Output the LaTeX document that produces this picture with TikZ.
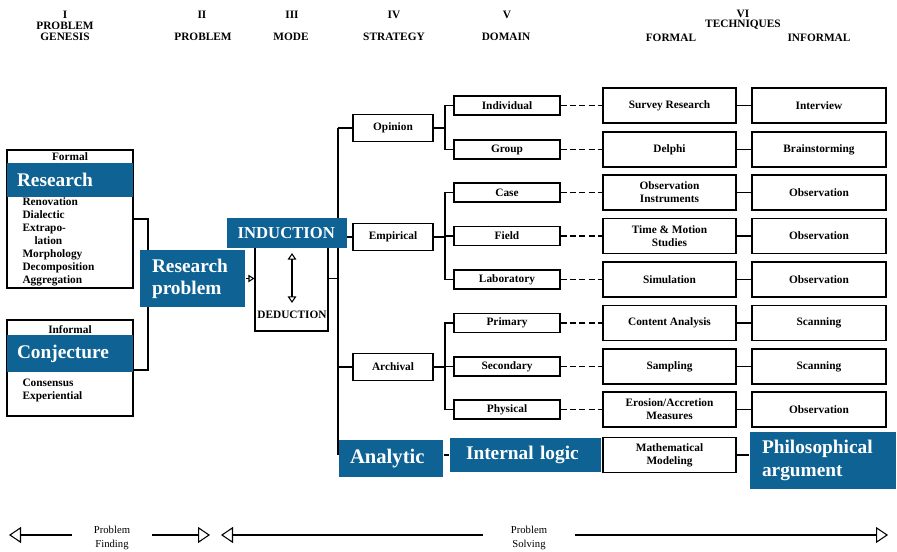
\documentclass[tikz,border=0pt]{standalone}
\usepackage{fontspec}
\setmainfont{Liberation Serif}
\usetikzlibrary{arrows.meta}
\definecolor{hblue}{RGB}{14,99,148}
\begin{document}
\begin{tikzpicture}[x=0.75pt,y=-0.75pt,
  line width=0.8pt,
  hdr/.style={font=\fontsize{8.5}{9}\selectfont\bfseries, inner sep=0pt},
  lbl/.style={font=\fontsize{8.5}{9.75}\selectfont\bfseries, inner sep=0pt, align=center},
  lst/.style={font=\fontsize{8.5}{9.75}\selectfont\bfseries, inner sep=0pt, align=left, anchor=north west},
  dom/.style={draw, minimum width=79.5pt, minimum height=14.25pt, inner sep=0pt, font=\fontsize{8.5}{9.75}\selectfont\bfseries},
  strat/.style={draw, minimum width=60pt, minimum height=20.25pt, inner sep=0pt, font=\fontsize{8.5}{9.75}\selectfont\bfseries},
  ftech/.style={draw, minimum width=99.75pt, minimum height=26.25pt, inner sep=0pt, align=center, font=\fontsize{8.5}{9.75}\selectfont\bfseries},
  itech/.style={draw, minimum width=100.5pt, minimum height=26.25pt, inner sep=0pt, align=center, font=\fontsize{8.5}{9.75}\selectfont\bfseries},
  hl/.style={fill=hblue, text=white, font=\fontsize{14.5}{17}\selectfont\bfseries, align=left, inner ysep=0pt},
  dsh/.style={dash pattern=on 4.5pt off 2.5pt},
  bigtip/.style={{Triangle[open,length=9pt,width=12pt]}},
]
\fill[white] (0,0) rectangle (897,552);
\useasboundingbox (0,0) rectangle (897,552);

% ---------------- header
\node[hdr] (h1a) at (65,15) {I};
\node[hdr] (h1b) at (65,26) {PROBLEM};
\node[hdr] (h1c) at (65,37) {GENESIS};
\node[hdr] (h2a) at (202,15) {II};
\node[hdr] (h2b) at (203,37) {PROBLEM};
\node[hdr] (h3a) at (292,15) {III};
\node[hdr] (h3b) at (291,37) {MODE};
\node[hdr] (h4a) at (394,15) {IV};
\node[hdr] (h4b) at (394,37) {STRATEGY};
\node[hdr] (h5a) at (507,15) {V};
\node[hdr] (h5b) at (506,37) {DOMAIN};
\node[hdr] (h6a) at (743,14) {VI};
\node[hdr] (h6b) at (743,25) {TECHNIQUES};
\node[hdr] (h6c) at (671,38) {FORMAL};
\node[hdr] (h6d) at (819,38) {INFORMAL};

% ---------------- problem genesis
\node[draw, minimum width=94.5pt, minimum height=103.5pt, inner sep=0pt] (formal) at (70,219) {};
\node[lbl] (formallbl) at (70,157) {Formal};
\node[lst] (formallist) at (22,197) {Renovation\\Dialectic\\Extrapo-\\\hspace{9pt}lation\\Morphology\\Decomposition\\Aggregation};
\node[hl, minimum height=25.5pt, text width=79.5pt, inner xsep=7.5pt] (research) at (70,180) {Research};

\node[draw, minimum width=94.5pt, minimum height=72pt, inner sep=0pt] (informal) at (70,368) {};
\node[lbl] (informallbl) at (70,330) {Informal};
\node[lst] (informallist) at (22,378) {Consensus\\Experiential};
\node[hl, minimum height=27.75pt, text width=79.5pt, inner xsep=7.5pt] (conjecture) at (70,353.5) {Conjecture};

\coordinate (j1) at (148,219);
\coordinate (j2) at (148,370);
\draw (formal.east) -- (j1) -- (j2) -- (informal.east |- j2);

% ---------------- problem / mode
\node[draw, minimum width=54.75pt, minimum height=72pt, inner sep=0pt] (mode) at (291.5,283) {};
\node[lbl] (deduction) at (292,315) {DEDUCTION};
\coordinate (da) at (292,253);
\coordinate (db) at (292,303);
\draw[{Triangle[open,length=5pt,width=6.5pt]}-{Triangle[open,length=5pt,width=6.5pt]}] (da) -- (db);

\node[hl, minimum height=42.75pt, text width=60.75pt, inner xsep=9pt, font=\fontsize{14.5}{16.5}\selectfont\bfseries] (rp) at (192.5,278.5) {Research\\problem};
\draw[-{Triangle[open,length=4.5pt,width=5.5pt]}] (rp.east) -- (rp.east -| mode.west);

% ---------------- strategy
\coordinate (trtop) at (338,128);
\coordinate (trbot) at (338,455);
\coordinate (sx) at (445,0);
\node[strat] (opinion) at (393,128) {Opinion};
\node[strat] (empirical) at (393,237) {Empirical};
\node[strat] (archival) at (393,367) {Archival};

\draw (trtop) -- (trbot);
\draw (rp.east -| mode.east) -- (rp.east -| trtop);
\draw (opinion.west) -- (opinion.west -| trtop);
\draw (empirical.west) -- (empirical.west -| trtop);
\draw (archival.west) -- (archival.west -| trtop);

\node[hl, minimum height=22.5pt, text width=74pt, inner xsep=8pt, font=\fontsize{12.5}{14}\selectfont\bfseries] (induction) at (287,233) {INDUCTION};
\node[hl, minimum height=27.75pt, text width=61.5pt, inner xsep=8.25pt, font=\fontsize{15.5}{17}\selectfont\bfseries] (analytic) at (391,458.5) {Analytic};

% ---------------- domain
\node[dom] (individual) at (507,105.5) {Individual};
\node[dom] (group) at (507,149.5) {Group};
\node[dom] (case) at (507,192.5) {Case};
\node[dom] (field) at (507,236) {Field};
\node[dom] (lab) at (507,279.5) {Laboratory};
\node[dom] (primary) at (507,323) {Primary};
\node[dom] (secondary) at (507,366.5) {Secondary};
\node[dom] (physical) at (507,409.5) {Physical};
\node[hl, minimum height=25.5pt, text width=89.25pt, inner xsep=12pt] (internal) at (525.5,455) {Internal logic};

\draw (opinion.east) -- (opinion.east -| sx) |- (individual.west);
\draw (opinion.east) -- (opinion.east -| sx) |- (group.west);
\draw (empirical.east) -- (empirical.east -| sx) |- (case.west);
\draw (empirical.east) -- (empirical.east -| sx) |- (field.west);
\draw (empirical.east) -- (empirical.east -| sx) |- (lab.west);
\draw (archival.east) -- (archival.east -| sx) |- (primary.west);
\draw (archival.east) -- (archival.east -| sx) |- (secondary.west);
\draw (archival.east) -- (archival.east -| sx) |- (physical.west);
\draw (analytic.east |- internal.west) -- (internal.west);

% ---------------- techniques
\node[ftech] (survey) at (669.5,105.5) {Survey Research};
\node[ftech] (delphi) at (669.5,149.5) {Delphi};
\node[ftech] (obsinst) at (669.5,192.5) {Observation\\Instruments};
\node[ftech] (timemotion) at (669.5,236) {Time \& Motion\\Studies};
\node[ftech] (simulation) at (669.5,279.5) {Simulation};
\node[ftech] (content) at (669.5,323) {Content Analysis};
\node[ftech] (sampling) at (669.5,366.5) {Sampling};
\node[ftech] (erosion) at (669.5,409.5) {Erosion/Accretion\\Measures};
\node[ftech] (math) at (669.5,455) {Mathematical\\Modeling};

\node[itech] (interview) at (819,105.5) {Interview};
\node[itech] (brainstorm) at (819,149.5) {Brainstorming};
\node[itech] (obs1) at (819,192.5) {Observation};
\node[itech] (obs2) at (819,236) {Observation};
\node[itech] (obs3) at (819,279.5) {Observation};
\node[itech] (scan1) at (819,323) {Scanning};
\node[itech] (scan2) at (819,366.5) {Scanning};
\node[itech] (obs4) at (819,409.5) {Observation};
\node[hl, minimum height=42.75pt, text width=91.5pt, inner xsep=9pt, font=\fontsize{14.5}{17.5}\selectfont\bfseries] (phil) at (823,460.5) {Philosophical\\argument};

\draw[dsh] (individual.east) -- (survey.west);
\draw[dsh] (group.east) -- (delphi.west);
\draw[dsh] (case.east) -- (obsinst.west);
\draw[dsh] (field.east) -- (timemotion.west);
\draw[dsh] (lab.east) -- (simulation.west);
\draw[dsh] (primary.east) -- (content.west);
\draw[dsh] (secondary.east) -- (sampling.west);
\draw[dsh] (physical.east) -- (erosion.west);
\draw (internal.east) -- (math.west);

\draw (survey.east) -- (interview.west);
\draw (delphi.east) -- (brainstorm.west);
\draw (obsinst.east) -- (obs1.west);
\draw (timemotion.east) -- (obs2.west);
\draw (simulation.east) -- (obs3.west);
\draw (content.east) -- (scan1.west);
\draw (sampling.east) -- (scan2.west);
\draw (erosion.east) -- (obs4.west);
\draw (math.east) -- (phil.west |- math.east);

% ---------------- bottom arrows
\node[font=\fontsize{8}{10.5}\selectfont, align=center, inner sep=0pt] (finding) at (112,538) {Problem\\Finding};
\node[font=\fontsize{8}{10.5}\selectfont, align=center, inner sep=0pt] (solving) at (529,538) {Problem\\Solving};
\coordinate (a1) at (9,535);
\coordinate (a2) at (72,535);
\coordinate (a3) at (152,535);
\coordinate (a4) at (210,535);
\coordinate (a5) at (221,535);
\coordinate (a6) at (483,535);
\coordinate (a7) at (575,535);
\coordinate (a8) at (888,535);
\draw[{Triangle[open,length=9pt,width=12pt]}-] (a1) -- (a2);
\draw[-{Triangle[open,length=9pt,width=12pt]}] (a3) -- (a4);
\draw[{Triangle[open,length=9pt,width=12pt]}-] (a5) -- (a6);
\draw[-{Triangle[open,length=9pt,width=12pt]}] (a7) -- (a8);
\end{tikzpicture}
\end{document}
